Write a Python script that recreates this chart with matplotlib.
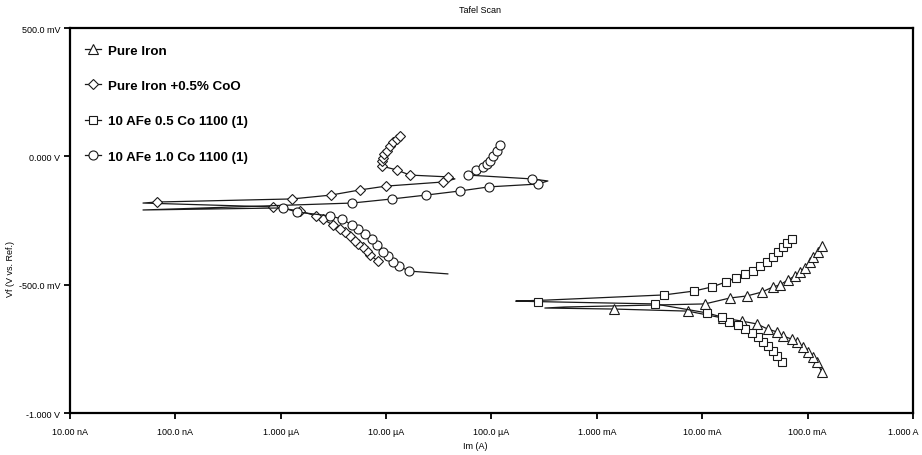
import matplotlib
matplotlib.use("Agg")
import matplotlib.pyplot as plt
import matplotlib.transforms as mtransforms

# ---------------------------------- Data ----------------------------------
# each series: full scan path, current Im (A) and potential Vf (V);
# *_tip = points of the Ecorr spike drawn as line only (no symbol)

iron_I = [0.1365, 0.1222, 0.1119, 0.1005, 0.0899, 0.0791, 0.0708, 0.0582, 0.0511, 0.0419,
          0.0330, 0.0238, 0.0157, 0.00729, 0.00145,
          3.21e-4, 4.97e-4,
          0.0106, 0.0183, 0.0265, 0.0367, 0.0468, 0.0545, 0.0649, 0.0757, 0.0843, 0.0940,
          0.1050, 0.1119, 0.1250, 0.1365]
iron_V = [-0.840, -0.801, -0.782, -0.762, -0.743, -0.723, -0.712, -0.700, -0.684, -0.673,
          -0.653, -0.642, -0.630, -0.603, -0.595,
          -0.591, -0.587,
          -0.575, -0.552, -0.544, -0.529, -0.509, -0.501, -0.482, -0.466, -0.451, -0.435,
          -0.412, -0.392, -0.373, -0.349]
iron_tip = [15, 16]

coo_I = [8.36e-6, 7.01e-6, 6.58e-6, 6.03e-6, 5.40e-6, 5.06e-6, 4.54e-6, 4.06e-6, 3.65e-6, 3.13e-6,
         2.51e-6, 2.16e-6, 1.52e-6, 8.43e-7,
         4.93e-8,
         6.68e-8, 1.28e-6, 2.99e-6, 5.63e-6, 9.96e-6, 3.46e-5,
         4.50e-5,
         3.85e-5, 1.68e-5, 1.26e-5, 9.12e-6, 9.12e-6, 9.33e-6, 9.53e-6, 1.02e-5, 1.09e-5,
         1.16e-5, 1.26e-5, 1.35e-5]
coo_V = [-0.408, -0.384, -0.369, -0.353, -0.342, -0.330, -0.310, -0.295, -0.283, -0.268,
         -0.244, -0.232, -0.213, -0.197,
         -0.182,
         -0.178, -0.166, -0.151, -0.131, -0.116, -0.100,
         -0.088,
         -0.080, -0.073, -0.053, -0.038, -0.018, -0.006, 0.009, 0.021, 0.040,
         0.056, 0.068, 0.079]
coo_tip = [14, 21]

co05_I = [0.0569, 0.0511, 0.0468, 0.0419, 0.0376, 0.0337, 0.0296, 0.0254, 0.0218, 0.0179,
          0.0153, 0.0111, 0.00355, 2.75e-4,
          1.70e-4, 3.36e-4,
          0.00433, 0.00832, 0.0123, 0.0167, 0.0208, 0.0254, 0.0302, 0.0351, 0.0410, 0.0468,
          0.0521, 0.0582, 0.0636, 0.0708]
co05_V = [-0.801, -0.778, -0.758, -0.739, -0.723, -0.704, -0.688, -0.673, -0.657, -0.645,
          -0.626, -0.610, -0.575, -0.566,
          -0.564, -0.560,
          -0.540, -0.525, -0.509, -0.490, -0.474, -0.458, -0.447, -0.427, -0.412, -0.392,
          -0.373, -0.353, -0.338, -0.322]
co05_tip = [14, 15]

co10_I = [3.85e-5, 1.64e-5, 1.32e-5, 1.16e-5, 1.04e-5, 9.33e-6, 8.18e-6, 7.33e-6, 6.30e-6, 5.40e-6,
          4.74e-6, 3.81e-6, 2.93e-6, 1.43e-6, 1.05e-6,
          4.93e-8,
          4.74e-6, 1.14e-5, 2.39e-5, 5.01e-5, 9.44e-5, 2.75e-4,
          3.43e-4,
          2.42e-4, 5.97e-5, 7.11e-5, 8.28e-5, 9.03e-5, 9.66e-5, 1.03e-4, 1.12e-4, 1.20e-4]
co10_V = [-0.458, -0.447, -0.427, -0.412, -0.388, -0.373, -0.345, -0.322, -0.303, -0.283,
          -0.268, -0.244, -0.232, -0.217, -0.201,
          -0.209,
          -0.182, -0.166, -0.151, -0.135, -0.119, -0.108,
          -0.096,
          -0.088, -0.073, -0.053, -0.042, -0.030, -0.018, 0.001, 0.021, 0.044]
co10_tip = [0, 15, 22]

labels = ["Pure Iron", "Pure Iron +0.5% CoO", "10 AFe 0.5 Co 1100 (1)", "10 AFe 1.0 Co 1100 (1)"]

x_ticks = [1e-8, 1e-7, 1e-6, 1e-5, 1e-4, 1e-3, 1e-2, 1e-1, 1.0]
x_ticklabels = ["10.00 nA", "100.0 nA", "1.000 \u00b5A", "10.00 \u00b5A", "100.0 \u00b5A",
                "1.000 mA", "10.00 mA", "100.0 mA", "1.000 A"]
y_ticks = [-1.0, -0.5, 0.0, 0.5]
y_ticklabels = ["-1.000 V", "-500.0 mV", "0.000 V", "500.0 mV"]

# ---------------------------------- Plot ----------------------------------
plt.rcParams['font.family'] = ['Liberation Sans Narrow', 'Liberation Sans', 'DejaVu Sans']

fig = plt.figure(figsize=(9.22, 4.56), dpi=100)
ax = fig.add_axes([0.0759, 0.0921, 0.9143, 0.8443])

series = [(iron_I, iron_V, iron_tip, '^'),
          (coo_I, coo_V, coo_tip, 'D'),
          (co05_I, co05_V, co05_tip, 's'),
          (co10_I, co10_V, co10_tip, 'o')]
ms = {'^': 6.5, 'D': 5.2, 's': 6.2, 'o': 6.5}

for (I, V, tip, mk), lab in zip(series, labels):
    marks = [i for i in range(len(I)) if i not in tip]
    ax.plot(I, V, color='#1a1a1a', lw=0.9, marker=mk, ms=ms[mk], mfc='white',
            mec='#1a1a1a', mew=0.8, markevery=marks, label=lab)

ax.set_xscale('log')
ax.set_xlim(1e-8, 1.0)
ax.set_ylim(-1.0, 0.5)
ax.set_xticks(x_ticks)
ax.set_xticklabels(x_ticklabels)
ax.minorticks_off()
ax.set_yticks(y_ticks)
ax.set_yticklabels(y_ticklabels)
ax.tick_params(axis='both', direction='out', length=4, width=1.3, labelsize=6.5)
ax.tick_params(axis='x', pad=6)
ax.tick_params(axis='y', pad=3)
for s in ax.spines.values():
    s.set_linewidth(1.6)

# last x label sits on the right edge of the figure; nudge it inside
last = ax.get_xticklabels()[-1]
last.set_transform(last.get_transform() + mtransforms.ScaledTranslation(-10 / 100, 0, fig.dpi_scale_trans))

leg = ax.legend(loc='upper left', bbox_to_anchor=(0.018, 0.957), frameon=False,
                borderpad=0, borderaxespad=0, handlelength=1.2, handletextpad=0.5,
                labelspacing=1.72, prop={'size': 9.6, 'weight': 'bold'})

fig.text(0.521, 0.978, "Tafel Scan", ha='center', va='center', fontsize=6.5)
fig.text(0.515, 0.02, "Im (A)", ha='center', va='center', fontsize=6.5)
fig.text(0.011, 0.41, "Vf (V vs. Ref.)", ha='center', va='center', rotation=90, fontsize=6.5)

fig.savefig("out.png", dpi=100)
